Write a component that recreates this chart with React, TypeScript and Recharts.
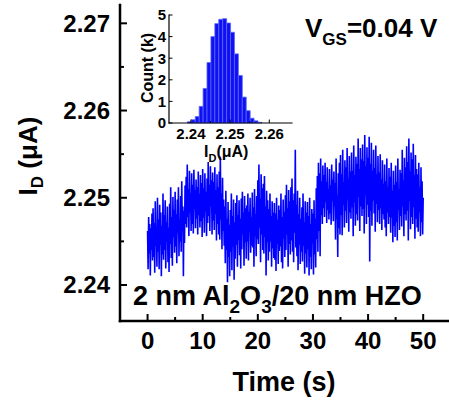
import { LineChart, Line, XAxis, YAxis, BarChart, Bar } from "recharts";

const FONT = '"Liberation Sans", Arial, sans-serif';
const SAMPLE_DT = 0.1; // s between samples

// drain current (µA), 10 samples per second
const id0to10 = [
  2.2462, 2.2418, 2.2478, 2.2436, 2.2470, 2.2411, 2.2465, 2.2440, 2.2482, 2.2428,
  2.2488, 2.2432, 2.2471, 2.2414, 2.2496, 2.2445, 2.2466, 2.2421, 2.2500, 2.2438,
  2.2475, 2.2418, 2.2492, 2.2446, 2.2483, 2.2410, 2.2468, 2.2435, 2.2505, 2.2429,
  2.2480, 2.2440, 2.2497, 2.2419, 2.2472, 2.2450, 2.2490, 2.2426, 2.2466, 2.2415,
  2.2493, 2.2447, 2.2512, 2.2431, 2.2478, 2.2422, 2.2501, 2.2455, 2.2486, 2.2437,
  2.2507, 2.2444, 2.2481, 2.2425, 2.2498, 2.2459, 2.2512, 2.2433, 2.2475, 2.2450,
  2.2502, 2.2438, 2.2519, 2.2462, 2.2490, 2.2410, 2.2485, 2.2448, 2.2514, 2.2470,
  2.2524, 2.2466, 2.2538, 2.2478, 2.2510, 2.2456, 2.2531, 2.2483, 2.2505, 2.2462,
  2.2528, 2.2470, 2.2515, 2.2459, 2.2532, 2.2487, 2.2509, 2.2465, 2.2521, 2.2476,
  2.2512, 2.2458, 2.2530, 2.2480, 2.2504, 2.2466, 2.2526, 2.2473, 2.2517, 2.2455,
];
const id10to20 = [
  2.2533, 2.2477, 2.2511, 2.2460, 2.2528, 2.2484, 2.2507, 2.2456, 2.2522, 2.2471,
  2.2541, 2.2479, 2.2515, 2.2462, 2.2536, 2.2490, 2.2520, 2.2458, 2.2529, 2.2474,
  2.2518, 2.2463, 2.2535, 2.2481, 2.2509, 2.2451, 2.2527, 2.2470, 2.2512, 2.2458,
  2.2530, 2.2452, 2.2547, 2.2475, 2.2505, 2.2441, 2.2523, 2.2462, 2.2498, 2.2445,
  2.2490, 2.2425, 2.2508, 2.2440, 2.2476, 2.2403, 2.2495, 2.2432, 2.2469, 2.2410,
  2.2486, 2.2438, 2.2505, 2.2417, 2.2479, 2.2444, 2.2498, 2.2406, 2.2472, 2.2430,
  2.2494, 2.2446, 2.2503, 2.2421, 2.2480, 2.2452, 2.2497, 2.2434, 2.2476, 2.2419,
  2.2499, 2.2441, 2.2507, 2.2458, 2.2483, 2.2422, 2.2502, 2.2449, 2.2488, 2.2430,
  2.2491, 2.2450, 2.2505, 2.2428, 2.2484, 2.2461, 2.2500, 2.2437, 2.2478, 2.2445,
  2.2506, 2.2443, 2.2489, 2.2421, 2.2510, 2.2456, 2.2481, 2.2433, 2.2502, 2.2452,
];
const id20to30 = [
  2.2520, 2.2447, 2.2538, 2.2466, 2.2499, 2.2426, 2.2527, 2.2458, 2.2511, 2.2440,
  2.2516, 2.2436, 2.2525, 2.2455, 2.2490, 2.2411, 2.2508, 2.2449, 2.2497, 2.2428,
  2.2487, 2.2438, 2.2505, 2.2450, 2.2479, 2.2421, 2.2496, 2.2442, 2.2483, 2.2431,
  2.2494, 2.2429, 2.2482, 2.2416, 2.2500, 2.2447, 2.2475, 2.2424, 2.2491, 2.2439,
  2.2486, 2.2444, 2.2505, 2.2426, 2.2478, 2.2419, 2.2498, 2.2453, 2.2484, 2.2432,
  2.2503, 2.2440, 2.2515, 2.2458, 2.2488, 2.2421, 2.2509, 2.2447, 2.2496, 2.2435,
  2.2512, 2.2451, 2.2522, 2.2438, 2.2497, 2.2426, 2.2505, 2.2460, 2.2555, 2.2443,
  2.2492, 2.2433, 2.2508, 2.2417, 2.2481, 2.2446, 2.2500, 2.2424, 2.2476, 2.2438,
  2.2489, 2.2427, 2.2505, 2.2445, 2.2472, 2.2413, 2.2496, 2.2436, 2.2483, 2.2420,
  2.2495, 2.2441, 2.2479, 2.2411, 2.2500, 2.2432, 2.2470, 2.2418, 2.2487, 2.2448,
];
const id30to40 = [
  2.2482, 2.2412, 2.2497, 2.2435, 2.2476, 2.2420, 2.2511, 2.2452, 2.2525, 2.2438,
  2.2540, 2.2462, 2.2528, 2.2433, 2.2545, 2.2480, 2.2519, 2.2470, 2.2537, 2.2488,
  2.2526, 2.2478, 2.2540, 2.2495, 2.2518, 2.2471, 2.2535, 2.2486, 2.2510, 2.2475,
  2.2533, 2.2482, 2.2514, 2.2469, 2.2538, 2.2496, 2.2521, 2.2473, 2.2530, 2.2490,
  2.2517, 2.2452, 2.2545, 2.2476, 2.2503, 2.2432, 2.2528, 2.2465, 2.2540, 2.2458,
  2.2549, 2.2480, 2.2527, 2.2457, 2.2555, 2.2492, 2.2518, 2.2466, 2.2543, 2.2485,
  2.2535, 2.2471, 2.2557, 2.2498, 2.2522, 2.2461, 2.2548, 2.2483, 2.2530, 2.2476,
  2.2552, 2.2489, 2.2531, 2.2456, 2.2560, 2.2495, 2.2526, 2.2468, 2.2547, 2.2481,
  2.2539, 2.2474, 2.2568, 2.2501, 2.2533, 2.2462, 2.2557, 2.2490, 2.2544, 2.2479,
  2.2561, 2.2487, 2.2542, 2.2459, 2.2572, 2.2503, 2.2536, 2.2470, 2.2558, 2.2492,
];
const id40to50 = [
  2.2546, 2.2478, 2.2570, 2.2427, 2.2539, 2.2485, 2.2563, 2.2468, 2.2531, 2.2497,
  2.2555, 2.2482, 2.2534, 2.2461, 2.2560, 2.2493, 2.2527, 2.2472, 2.2548, 2.2486,
  2.2529, 2.2470, 2.2550, 2.2488, 2.2521, 2.2463, 2.2543, 2.2481, 2.2516, 2.2475,
  2.2538, 2.2466, 2.2519, 2.2456, 2.2545, 2.2483, 2.2512, 2.2470, 2.2534, 2.2478,
  2.2524, 2.2460, 2.2540, 2.2477, 2.2508, 2.2449, 2.2531, 2.2468, 2.2515, 2.2455,
  2.2537, 2.2472, 2.2518, 2.2451, 2.2545, 2.2486, 2.2510, 2.2463, 2.2532, 2.2479,
  2.2528, 2.2467, 2.2555, 2.2490, 2.2520, 2.2456, 2.2546, 2.2481, 2.2535, 2.2474,
  2.2559, 2.2485, 2.2541, 2.2451, 2.2568, 2.2496, 2.2530, 2.2464, 2.2552, 2.2478,
  2.2544, 2.2470, 2.2562, 2.2489, 2.2526, 2.2453, 2.2549, 2.2476, 2.2533, 2.2466,
  2.2527, 2.2461, 2.2540, 2.2483, 2.2512, 2.2456, 2.2535, 2.2472, 2.2519, 2.2458,
  2.2500,
];

const timeTicks = [0, 5, 10, 15, 20, 25, 30, 35, 40, 45, 50];
const currentTicks = [2.24, 2.245, 2.25, 2.255, 2.26, 2.265, 2.27];

// inset histogram: bin centre (µA) and count (k)
const histBins = [
  2.2396, 2.2406, 2.2416, 2.2426, 2.2436, 2.2446, 2.2456, 2.2466, 2.2476, 2.2486,
  2.2496, 2.2506, 2.2516, 2.2526, 2.2536, 2.2546, 2.2556, 2.2566, 2.2576,
];
const histCounts = [
  0.06, 0.15, 0.3, 0.77, 1.6, 2.8, 4.0, 4.6, 4.8, 4.83,
  4.63, 4.2, 3.2, 2.2, 1.2, 0.57, 0.22, 0.1, 0.03,
];
const histTicks = [2.24, 2.245, 2.25, 2.255, 2.26];
const countTicks = [0, 1, 2, 3, 4, 5];

const trace = [...id0to10, ...id10to20, ...id20to30, ...id30to40, ...id40to50].map((v, i) => ({
  t: +(i * SAMPLE_DT).toFixed(1),
  v,
}));
const hist = histBins.map((id, i) => ({ id, count: histCounts[i] }));

const isMult = (v: number, step: number) => Math.abs(v / step - Math.round(v / step)) < 1e-6;

const frame = { stroke: "#000", strokeWidth: 2.5, strokeLinecap: "square" as const };
const insetFrame = { stroke: "#000", strokeWidth: 1.2, strokeLinecap: "square" as const };

function TimeTick({ x, y, payload }: any) {
  const major = isMult(payload.value, 10);
  return (
    <g>
      <line x1={x} x2={x} y1={y} y2={y - (major ? 7 : 4)} stroke="#000" strokeWidth={2} />
      {major && (
        <text x={x} y={y + 11} dy="0.71em" textAnchor="middle" fontSize={24} fontWeight="bold" fontFamily={FONT} fill="#000">
          {payload.value}
        </text>
      )}
    </g>
  );
}

function CurrentTick({ x, y, payload }: any) {
  const major = isMult(payload.value, 0.01);
  return (
    <g>
      <line x1={x} x2={x + (major ? 7 : 4)} y1={y} y2={y} stroke="#000" strokeWidth={2} />
      {major && (
        <text x={x - 10} y={y} dy="0.355em" textAnchor="end" fontSize={24} fontWeight="bold" fontFamily={FONT} fill="#000">
          {payload.value.toFixed(2)}
        </text>
      )}
    </g>
  );
}

function HistXTick({ x, y, payload }: any) {
  const major = isMult(payload.value, 0.01);
  return (
    <g>
      <line x1={x} x2={x} y1={y} y2={y - (major ? 3.5 : 2)} stroke="#000" strokeWidth={1} />
      {major && (
        <text x={x} y={y + 5} dy="0.71em" textAnchor="middle" fontSize={15} fontWeight="bold" fontFamily={FONT} fill="#000">
          {payload.value.toFixed(2)}
        </text>
      )}
    </g>
  );
}

function HistYTick({ x, y, payload }: any) {
  return (
    <g>
      <line x1={x} x2={x + 3.5} y1={y} y2={y} stroke="#000" strokeWidth={1} />
      <text x={x - 3} y={y} dy="0.355em" textAnchor="end" fontSize={15} fontWeight="bold" fontFamily={FONT} fill="#000">
        {payload.value}
      </text>
    </g>
  );
}

export default function App() {
  const bold = { fontFamily: FONT, fontWeight: "bold" as const, fill: "#000" };
  return (
    <div style={{ position: "absolute", left: 0, top: 0, width: 449, height: 402, background: "#fff" }}>
      <LineChart width={449} height={402} data={trace} margin={{ top: 5, right: 1, bottom: 20, left: 8 }}>
        <XAxis
          dataKey="t"
          type="number"
          domain={[-5, 54.5]}
          ticks={timeTicks}
          interval={0}
          tick={TimeTick}
          tickLine={false}
          tickSize={0}
          tickMargin={0}
          axisLine={frame}
          height={61}
        />
        <XAxis xAxisId="top" orientation="top" dataKey="t" type="number" domain={[-5, 54.5]} tick={false} tickLine={false} axisLine={frame} height={0} />
        <YAxis
          dataKey="v"
          type="number"
          domain={[2.23587, 2.2721]}
          ticks={currentTicks}
          interval={0}
          tick={CurrentTick}
          tickLine={false}
          tickSize={0}
          tickMargin={0}
          axisLine={frame}
          width={112}
          allowDataOverflow
        />
        <YAxis yAxisId="right" orientation="right" dataKey="v" type="number" domain={[2.23587, 2.2721]} tick={false} tickLine={false} axisLine={frame} width={0} />
        <Line dataKey="v" stroke="#0000ff" strokeWidth={1.6} dot={false} isAnimationActive={false} />
      </LineChart>

      <div style={{ position: "absolute", left: 120, top: 0 }}>
        <BarChart width={178} height={165} data={hist} margin={{ top: 15, right: 6, bottom: 0, left: 0 }} barCategoryGap={0} barGap={0}>
          <XAxis
            dataKey="id"
            type="number"
            domain={[2.2344, 2.2658]}
            ticks={histTicks}
            interval={0}
            tick={HistXTick}
            tickLine={false}
            tickSize={0}
            tickMargin={0}
            axisLine={insetFrame}
            height={42}
          />
          <XAxis xAxisId="top" orientation="top" dataKey="id" type="number" domain={[2.2344, 2.2658]} tick={false} tickLine={false} axisLine={insetFrame} height={0} />
          <YAxis
            type="number"
            domain={[0, 5]}
            ticks={countTicks}
            interval={0}
            tick={HistYTick}
            tickLine={false}
            tickSize={0}
            tickMargin={0}
            axisLine={insetFrame}
            width={49}
          />
          <YAxis yAxisId="right" orientation="right" type="number" domain={[0, 5]} tick={false} tickLine={false} axisLine={insetFrame} width={0} />
          <Bar dataKey="count" fill="#1010f0" stroke="#5a6aff" strokeWidth={0.8} isAnimationActive={false} />
        </BarChart>
      </div>

      <svg width={449} height={402} style={{ position: "absolute", left: 0, top: 0, pointerEvents: "none" }}>
        <text transform="translate(37,156) rotate(-90)" textAnchor="middle" fontSize={26} {...bold}>
          I<tspan fontSize={17} dy={6}>D</tspan>
          <tspan dy={-6}> (μA)</tspan>
        </text>
        <text x={284} y={391} textAnchor="middle" fontSize={27} {...bold}>
          Time (s)
        </text>
        <text x={305} y={37} fontSize={26} {...bold}>
          V<tspan fontSize={17} dy={8}>GS</tspan>
          <tspan dy={-8}>=0.04 V</tspan>
        </text>
        <text x={133} y={305} fontSize={27} {...bold}>
          2 nm Al<tspan fontSize={19} dy={8}>2</tspan>
          <tspan dy={-8}>O</tspan>
          <tspan fontSize={19} dy={8}>3</tspan>
          <tspan dy={-8}>/20 nm HZO</tspan>
        </text>
        <text transform="translate(153,68) rotate(-90)" textAnchor="middle" fontSize={16} {...bold}>
          Count (k)
        </text>
        <text x={204} y={157} fontSize={16} {...bold}>
          I<tspan fontSize={11} dy={5}>D</tspan>
          <tspan dy={-5}>(μA)</tspan>
        </text>
      </svg>
    </div>
  );
}
